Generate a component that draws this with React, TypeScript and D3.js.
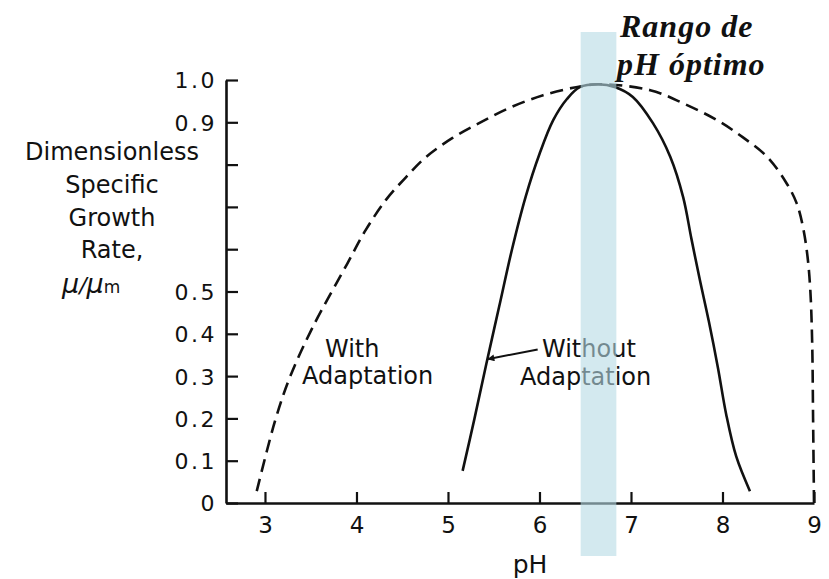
import { useEffect, useRef } from "react";
import * as d3 from "d3";

const W = 829;
const H = 579;

// pH values / dimensionless growth rate
const withAdaptPH = [2.91, 3.11, 3.27, 3.52, 3.90, 4.10, 4.32, 4.54, 4.76, 5.05, 5.34, 5.67, 6.04, 6.40, 6.65, 7.21, 7.57, 7.94, 8.22, 8.49, 8.70, 8.81, 8.88, 8.93, 8.96, 8.98, 8.99, 9.0];
const withAdaptMu = [0.028, 0.194, 0.296, 0.415, 0.566, 0.645, 0.716, 0.770, 0.818, 0.863, 0.898, 0.934, 0.964, 0.983, 0.99, 0.976, 0.945, 0.905, 0.865, 0.818, 0.756, 0.709, 0.652, 0.581, 0.502, 0.38, 0.2, 0.0];

const withoutPH = [5.16, 5.29, 5.42, 5.56, 5.70, 5.85, 6.00, 6.15, 6.30, 6.44, 6.64, 6.83, 7.02, 7.24, 7.43, 7.57, 7.66, 7.75, 7.85, 7.95, 8.04, 8.15, 8.30];
const withoutMu = [0.076, 0.20, 0.33, 0.465, 0.60, 0.725, 0.825, 0.905, 0.955, 0.983, 0.99, 0.983, 0.96, 0.898, 0.818, 0.723, 0.625, 0.53, 0.43, 0.32, 0.21, 0.11, 0.028];

const xTicks = [3, 4, 5, 6, 7, 8, 9];
const yTicks = [0, 0.1, 0.2, 0.3, 0.4, 0.5, 0.6, 0.7, 0.8, 0.9, 1.0];
const yTickLabels = ["0", "0.1", "0.2", "0.3", "0.4", "0.5", "", "", "", "0.9", "1.0"];

const optimalRange = [6.45, 6.84];
const arrowFrom = [5.98, 0.363];
const arrowTo = [5.43, 0.34];

const yLabelLines = ["Dimensionless", "Specific", "Growth", "Rate,"];

const SANS = "'DejaVu Sans', sans-serif";

export default function App() {
  const svgRef = useRef<SVGSVGElement | null>(null);

  useEffect(() => {
    const svg = d3.select(svgRef.current);
    svg.selectAll("*").remove();

    const x = d3.scaleLinear().domain([2.574, 9]).range([226, 814]);
    const y = d3.scaleLinear().domain([0, 1]).range([503, 80]);

    svg.append("rect").attr("width", W).attr("height", H).attr("fill", "#fff");

    const defs = svg.append("defs");
    defs.append("marker")
      .attr("id", "arrowhead")
      .attr("viewBox", "0 0 10 10")
      .attr("refX", 10).attr("refY", 5)
      .attr("markerWidth", 16).attr("markerHeight", 7)
      .attr("markerUnits", "userSpaceOnUse")
      .attr("orient", "auto")
      .append("path").attr("d", "M0,0 L10,5 L0,10 Z").attr("fill", "#111");

    const styleAxis = (sel: any) => {
      sel.select(".domain").attr("stroke", "#111").attr("stroke-width", 2.6);
      sel.selectAll(".tick line").attr("stroke", "#111").attr("stroke-width", 2.2);
      sel.selectAll(".tick text")
        .attr("fill", "#111").attr("font-family", SANS);
    };

    // y axis, ticks pointing inward
    svg.append("g")
      .attr("transform", `translate(${x(2.574)},0)`)
      .call(d3.axisLeft(y).tickValues(yTicks).tickSizeInner(-12).tickSizeOuter(0).tickPadding(9)
        .tickFormat((d: any, i: number) => yTickLabels[i]))
      .call(styleAxis)
      .call((g: any) => g.selectAll(".tick text").attr("font-size", 22).attr("letter-spacing", "2.5px").attr("dy", "0.36em"));

    // x axis, ticks pointing up
    svg.append("g")
      .attr("transform", `translate(0,${y(0)})`)
      .call(d3.axisBottom(x).tickValues(xTicks).tickSizeInner(-11).tickSizeOuter(0).tickPadding(14)
        .tickFormat(d3.format("d")))
      .call(styleAxis)
      .call((g: any) => g.selectAll(".tick text").attr("font-size", 23));

    svg.append("text")
      .attr("x", 530).attr("y", 573)
      .attr("text-anchor", "middle")
      .attr("font-family", SANS).attr("font-size", 25).attr("fill", "#111")
      .text("pH");

    // y label block
    const yl = svg.append("text")
      .attr("font-family", SANS).attr("font-size", 24).attr("fill", "#111")
      .attr("text-anchor", "middle");
    const lineY = [160, 193, 226, 258];
    yLabelLines.forEach((t, i) => {
      yl.append("tspan").attr("x", 112).attr("y", lineY[i]).text(t);
    });
    const mu = svg.append("text")
      .attr("x", 62).attr("y", 293)
      .attr("font-family", SANS).attr("font-size", 27).attr("fill", "#111");
    mu.append("tspan").attr("font-style", "italic").text("μ");
    mu.append("tspan").attr("font-size", 22).attr("font-style", "italic").text("/");
    mu.append("tspan").attr("font-style", "italic").text("μ");
    mu.append("tspan").attr("font-size", 17).text("m");

    const path = d3.line().curve(d3.curveCatmullRom.alpha(0.5));
    const withPts = withAdaptPH.map((p, i) => [x(p), y(withAdaptMu[i])] as [number, number]);
    const withoutPts = withoutPH.map((p, i) => [x(p), y(withoutMu[i])] as [number, number]);

    svg.append("path")
      .attr("d", path(withPts))
      .attr("fill", "none").attr("stroke", "#111").attr("stroke-width", 2.6)
      .attr("stroke-dasharray", "13,7");

    svg.append("path")
      .attr("d", path(withoutPts))
      .attr("fill", "none").attr("stroke", "#111").attr("stroke-width", 2.6);

    // pointer arrow
    svg.append("line")
      .attr("x1", x(arrowFrom[0])).attr("y1", y(arrowFrom[1]))
      .attr("x2", x(arrowTo[0])).attr("y2", y(arrowTo[1]))
      .attr("stroke", "#111").attr("stroke-width", 2)
      .attr("marker-end", "url(#arrowhead)");

    const label = (tx: number, ty: number, t: string) =>
      svg.append("text").attr("x", tx).attr("y", ty)
        .attr("font-family", SANS).attr("font-size", 24).attr("fill", "#111").text(t);
    label(325, 357, "With");
    label(302, 384, "Adaptation");
    label(542, 357, "Without");
    label(520, 385, "Adaptation");

    // optimal pH band (drawn over the lines, translucent)
    svg.append("rect")
      .attr("x", x(optimalRange[0])).attr("y", 32)
      .attr("width", x(optimalRange[1]) - x(optimalRange[0]))
      .attr("height", 556 - 32)
      .attr("fill", "#b6dbe4").attr("opacity", 0.6);

    const title = svg.append("text")
      .attr("font-family", "'Liberation Serif', 'Times New Roman', serif")
      .attr("font-style", "italic").attr("font-weight", "bold")
      .attr("font-size", 32).attr("letter-spacing", "1px").attr("fill", "#111");
    title.append("tspan").attr("x", 620).attr("y", 37).text("Rango de");
    title.append("tspan").attr("x", 617).attr("y", 75).text("pH óptimo");
  }, []);

  return (
    <svg
      ref={svgRef}
      width={W}
      height={H}
      viewBox={`0 0 ${W} ${H}`}
      style={{ position: "absolute", left: 0, top: 0, display: "block" }}
    />
  );
}
